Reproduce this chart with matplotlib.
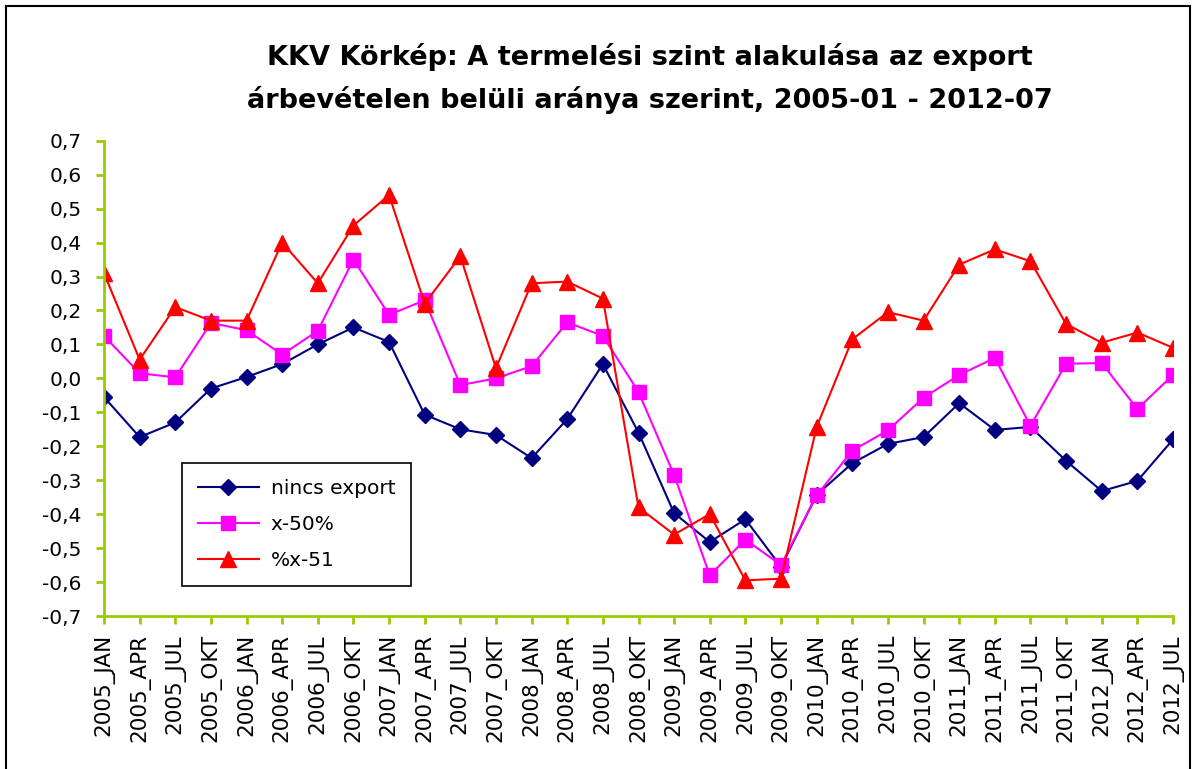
import numpy as np
import matplotlib
matplotlib.use("Agg")
import matplotlib.pyplot as plt
from matplotlib.patches import Rectangle
from matplotlib.ticker import FuncFormatter

# Quarter labels
periods = [
    "2005_JAN", "2005_APR", "2005_JUL", "2005_OKT",
    "2006_JAN", "2006_APR", "2006_JUL", "2006_OKT",
    "2007_JAN", "2007_APR", "2007_JUL", "2007_OKT",
    "2008_JAN", "2008_APR", "2008_JUL", "2008_OKT",
    "2009_JAN", "2009_APR", "2009_JUL", "2009_OKT",
    "2010_JAN", "2010_APR", "2010_JUL", "2010_OKT",
    "2011_JAN", "2011_APR", "2011_JUL", "2011_OKT",
    "2012_JAN", "2012_APR", "2012_JUL",
]

nincs_export = [
    -0.055, -0.173, -0.13, -0.03,
    0.004, 0.042, 0.10, 0.15,
    0.107, -0.107, -0.15, -0.167,
    -0.235, -0.12, 0.042, -0.16,
    -0.397, -0.482, -0.415, -0.555,
    -0.343, -0.25, -0.193, -0.173,
    -0.073, -0.152, -0.143, -0.243,
    -0.332, -0.302, -0.18,
]

x_50 = [
    0.125, 0.015, 0.003, 0.163,
    0.142, 0.07, 0.14, 0.35,
    0.187, 0.23, -0.02, 0.0,
    0.036, 0.165, 0.125, -0.04,
    -0.285, -0.58, -0.475, -0.55,
    -0.345, -0.213, -0.153, -0.057,
    0.01, 0.06, -0.14, 0.043,
    0.045, -0.09, 0.01,
]

x_51 = [
    0.31, 0.055, 0.21, 0.17,
    0.17, 0.40, 0.28, 0.45,
    0.54, 0.22, 0.36, 0.03,
    0.28, 0.285, 0.235, -0.38,
    -0.46, -0.40, -0.595, -0.59,
    -0.143, 0.115, 0.195, 0.17,
    0.335, 0.38, 0.345, 0.16,
    0.105, 0.135, 0.09,
]

axis_color = "#99CC00"
x = np.arange(len(periods))

plt.rcParams["font.family"] = "DejaVu Sans"

fig = plt.figure(figsize=(11.96, 7.69), dpi=100)
ax = fig.add_axes([104 / 1196, 1 - 616 / 769, 1069 / 1196, 475.3 / 769])

ax.plot(x, nincs_export, color="#000080", marker="D", markersize=8,
        linewidth=1.5, label="nincs export")
ax.plot(x, x_50, color="#FF00FF", marker="s", markersize=10,
        linewidth=1.5, label="x-50%")
ax.plot(x, x_51, color="#FF0000", marker="^", markersize=11,
        linewidth=1.5, label="%x-51")

ax.set_xlim(0, len(periods) - 1)
ax.set_ylim(-0.7, 0.7)
ax.set_yticks(np.arange(-0.7, 0.71, 0.1))
ax.yaxis.set_major_formatter(
    FuncFormatter(lambda v, p: f"{v:.1f}".replace(".", ",").replace("-0,0", "0,0")))
ax.set_xticks(x)
ax.set_xticklabels(periods, rotation=90, fontsize=15.5)
for lab in ax.get_yticklabels():
    lab.set_fontsize(14.5)

for side in ["top", "right"]:
    ax.spines[side].set_visible(False)
for side in ["left", "bottom"]:
    ax.spines[side].set_color(axis_color)
    ax.spines[side].set_linewidth(2)
ax.tick_params(axis="both", color=axis_color, width=2, length=6, direction="out")
ax.tick_params(axis="y", pad=10)
ax.tick_params(axis="x", pad=7)

leg = ax.legend(loc="lower left", bbox_to_anchor=(0.073, 0.063), borderaxespad=0,
                fancybox=False, edgecolor="black", framealpha=1, borderpad=0.8,
                labelspacing=0.85, handlelength=3.0, handletextpad=0.6,
                prop={"size": 14.5})
leg.get_frame().set_linewidth(1.2)

fig.text(650 / 1196, 1 - 57 / 769,
         "KKV Körkép: A termelési szint alakulása az export",
         ha="center", va="center", fontsize=19.5, fontweight="bold")
fig.text(650 / 1196, 1 - 100 / 769,
         "árbevételen belüli aránya szerint, 2005-01 - 2012-07",
         ha="center", va="center", fontsize=19.5, fontweight="bold")

# outer chart border
fig.patches.append(Rectangle((6 / 1196, -0.05), 1184 / 1196, 1.05 - 6 / 769,
                             transform=fig.transFigure, fill=False,
                             edgecolor="black", linewidth=1.5))

fig.savefig("out.png", dpi=100)
